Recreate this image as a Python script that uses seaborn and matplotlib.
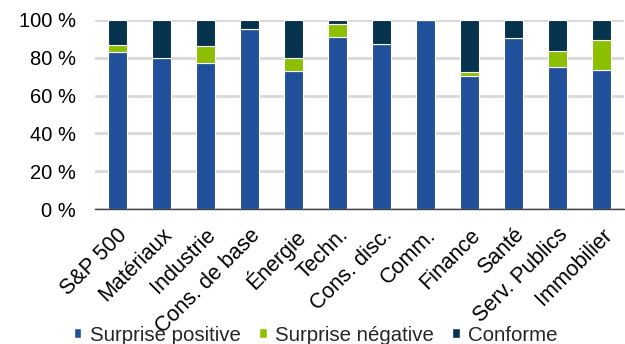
import numpy as np
import pandas as pd
import matplotlib
matplotlib.use("Agg")
import matplotlib.pyplot as plt
from matplotlib.patches import Patch
from matplotlib.ticker import FuncFormatter
import seaborn as sns

sectors = ["S&P 500", "Matériaux", "Industrie", "Cons. de base", "Énergie", "Techn.",
           "Cons. disc.", "Comm.", "Finance", "Santé", "Serv. Publics", "Immobilier"]
surprise_positive = [83, 80, 77.5, 95, 73, 91, 87.5, 100, 70.5, 90.5, 75, 73.5]
surprise_negative = [4, 0, 8.5, 0, 7, 7, 0, 0, 2, 0, 8.5, 16]
conforme = [13, 20, 14, 5, 20, 2, 12.5, 0, 27.5, 9.5, 16.5, 10.5]

series_names = ["Surprise positive", "Surprise négative", "Conforme"]
colors = ["#21509A", "#8CBF00", "#05324D"]

sns.set_theme(style="white")
plt.rcParams["font.family"] = ["Liberation Sans", "DejaVu Sans"]

fig = plt.figure(figsize=(6.25, 3.44), dpi=100)
ax = fig.add_axes([0.152, 0.392, 0.846, 0.55])

df = pd.DataFrame({"secteur": sectors, "pos": surprise_positive,
                   "neg": surprise_negative, "conf": conforme})
bottoms = np.zeros(len(sectors))
for col, c in zip(["pos", "neg", "conf"], colors):
    sns.barplot(data=df, x="secteur", y=col, color=c, bottom=bottoms, width=0.43,
                edgecolor="white", linewidth=0.8, saturation=1, ax=ax)
    bottoms = bottoms + df[col].to_numpy()

ax.set_ylim(0, 100)
ax.set_yticks(np.arange(0, 101, 20))
ax.yaxis.set_major_formatter(FuncFormatter(lambda v, p: f"{int(v)} %"))
ax.yaxis.grid(True, color="#D9D9D9", linewidth=2)
ax.set_axisbelow(True)
ax.set_xlim(-0.5, len(sectors) - 0.5)
ax.set_xlabel("")
ax.set_ylabel("")
for s in ["left", "right", "top"]:
    ax.spines[s].set_visible(False)
ax.spines["bottom"].set_color("#404040")
ax.spines["bottom"].set_linewidth(1)
ax.tick_params(axis="y", labelsize=14.5, length=0, pad=14, colors="black")
ax.tick_params(axis="x", labelsize=15.5, length=0, pad=11, colors="black")
plt.setp(ax.get_xticklabels(), rotation=45, ha="right", rotation_mode="anchor")

handles = [Patch(facecolor=c, edgecolor="white", label=n) for n, c in zip(series_names, colors)]
fig.legend(handles=handles, loc="lower center", bbox_to_anchor=(0.505, -0.055), ncol=3,
           frameon=False, fontsize=14.7, handlelength=0.38, handleheight=0.38,
           handletextpad=0.4, columnspacing=0.9)

fig.savefig("out.png", dpi=100)
